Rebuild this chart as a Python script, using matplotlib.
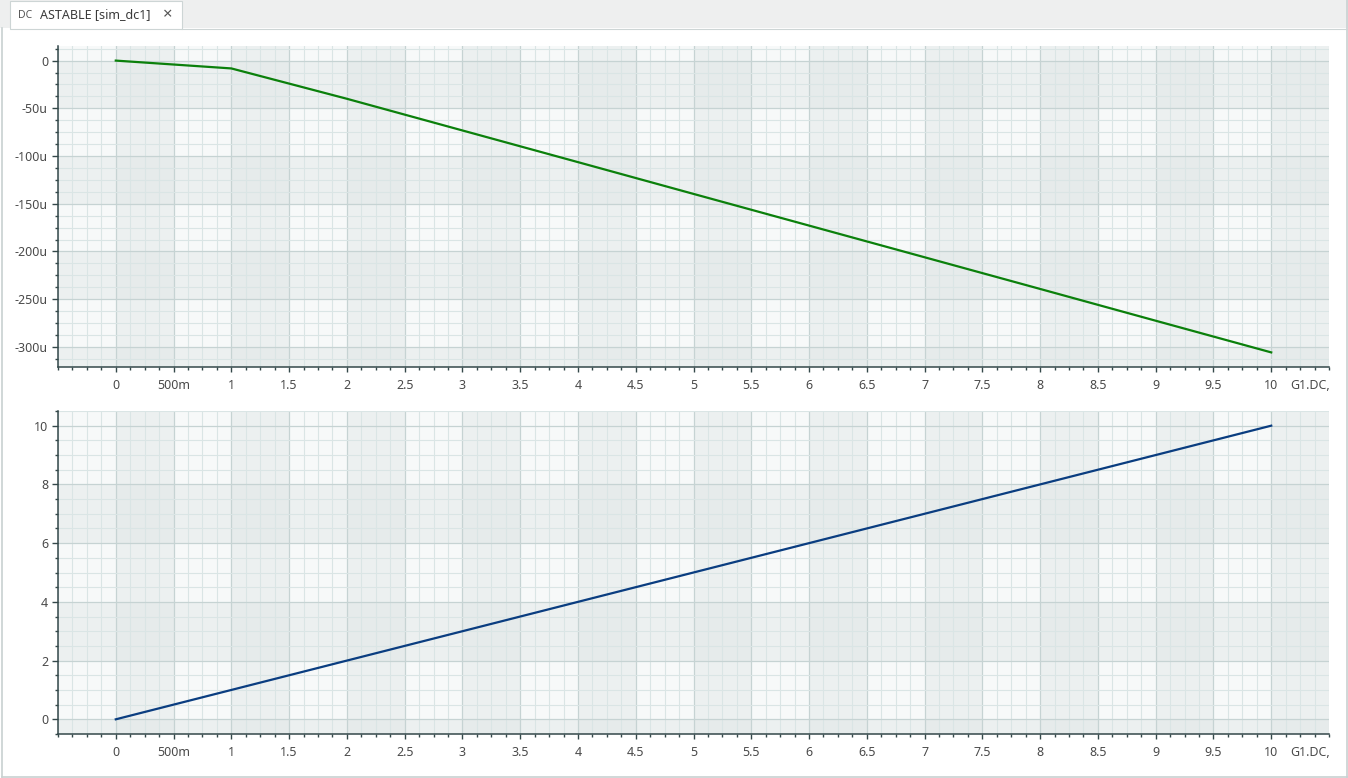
import numpy as np
import matplotlib
matplotlib.use('Agg')
import matplotlib.pyplot as plt
from matplotlib.patches import Rectangle
from matplotlib.lines import Line2D
from matplotlib.ticker import MultipleLocator, FixedLocator, FuncFormatter

plt.rcParams['font.family'] = ['Noto Sans', 'DejaVu Sans']

# sweep values (G1.DC)
sweep = [0, 1, 2, 3, 4, 5, 6, 7, 8, 9, 10]
# top trace, in micro units
current_u = [0, -8.2, -40.0, -73.2, -106.4, -139.7, -172.9, -206.1, -239.3, -272.6, -305.8]
# bottom trace
voltage = [0, 1, 2, 3, 4, 5, 6, 7, 8, 9, 10]

top_yticks = [0, -50, -100, -150, -200, -250, -300]
bot_yticks = [0, 2, 4, 6, 8, 10]
x_ticks = list(np.arange(0, 10.01, 0.5))

W, H = 1348, 778
fig = plt.figure(figsize=(W / 100, H / 100), dpi=100)
fig.patch.set_facecolor('white')


def fx(x):
    return x / W


def fy(y):
    return 1 - y / H


# window chrome: header strip, tab, border
fig.add_artist(Rectangle((0, fy(28)), 1, 28 / H, transform=fig.transFigure,
                         facecolor='#eeefef', edgecolor='none', zorder=0))
fig.add_artist(Rectangle((fx(10), fy(29)), 172 / W, 28 / H, transform=fig.transFigure,
                         facecolor='white', edgecolor='#cdd5d5', lw=0.8, zorder=1))
fig.add_artist(Line2D([fx(1.5), fx(1.5)], [fy(28), fy(777)], transform=fig.transFigure,
                      color='#c8d1d1', lw=1.2))
fig.add_artist(Line2D([fx(1347), fx(1347)], [fy(0), fy(777)], transform=fig.transFigure,
                      color='#c8d1d1', lw=1.2))
fig.add_artist(Line2D([fx(1.5), fx(1347)], [fy(776.8), fy(776.8)], transform=fig.transFigure,
                      color='#c8d1d1', lw=1.2))
fig.add_artist(Line2D([fx(182), fx(1347)], [fy(28.5), fy(28.5)], transform=fig.transFigure,
                      color='#cdd5d5', lw=0.8))
fig.text(fx(18), fy(15), 'DC', fontsize=7.5, color='#555555', va='center', ha='left')
fig.text(fx(40), fy(15), 'ASTABLE [sim_dc1]', fontsize=9, color='#3a3a3a', va='center', ha='left')
fig.text(fx(168), fy(15), '\u00d7', fontsize=12, color='#555555', va='center', ha='center')

ax_top = fig.add_axes([fx(58), fy(367), 1271 / W, 321 / H])
ax_bot = fig.add_axes([fx(58), fy(734), 1271 / W, 323 / H])

band_col = '#dfe6e6'
band_a = 0.45


def style(ax, yticks, yminor, dark_y):
    ax.set_facecolor('#f7f9f9')
    ax.set_xlim(-0.5, 10.5)
    # vertical bands
    for k in range(0, 11):
        ax.axvspan(k, k + 0.5, color=band_col, alpha=band_a, lw=0, zorder=0.1)
    for a, b in dark_y:
        ax.axhspan(a, b, color=band_col, alpha=band_a, lw=0, zorder=0.1)
    ax.set_axisbelow(True)
    ax.xaxis.set_major_locator(FixedLocator(x_ticks))
    ax.xaxis.set_minor_locator(MultipleLocator(0.125))
    ax.yaxis.set_major_locator(FixedLocator(yticks))
    ax.yaxis.set_minor_locator(MultipleLocator(yminor))
    ax.grid(which='minor', color='#dae5e5', lw=0.8)
    ax.grid(which='major', color='#c6d3d3', lw=0.9)
    for s in ['top', 'right']:
        ax.spines[s].set_visible(False)
    for s in ['left', 'bottom']:
        ax.spines[s].set_color('#34484a')
        ax.spines[s].set_linewidth(1.1)
    ax.tick_params(which='major', axis='x', length=3.5, width=1, color='#34484a',
                   labelsize=9, labelcolor='#4a4a4a', pad=5)
    ax.tick_params(which='major', axis='y', length=4.2, width=1, color='#34484a',
                   labelsize=9, labelcolor='#4a4a4a', pad=3)
    ax.tick_params(which='minor', length=2, width=1, color='#34484a')
    ax.xaxis.set_major_formatter(FuncFormatter(
        lambda v, p: '500m' if abs(v - 0.5) < 1e-9 else f'{v:g}'))
    ax.annotate('G1.DC,', xy=((1290 - 58) / 1271, 0), xycoords='axes fraction',
                xytext=(0, -8.6), textcoords='offset points', fontsize=9,
                color='#4a4a4a', ha='left', va='top')


ax_top.plot(sweep, current_u, color='#0b800b', lw=1.6, zorder=3)
ax_top.set_ylim(-321.1, 15.3)
style(ax_top, top_yticks, 12.5,
      [(-50, 0), (-150, -100), (-250, -200), (-330, -300)])
ax_top.yaxis.set_major_formatter(FuncFormatter(lambda v, p: '0' if v == 0 else f'{v:g}u'))

ax_bot.plot(sweep, voltage, color='#0a3d80', lw=1.6, zorder=3)
ax_bot.set_ylim(-0.5, 10.5)
style(ax_bot, bot_yticks, 0.5, [(-1, 0), (2, 4), (6, 8)])
ax_bot.yaxis.set_major_formatter(FuncFormatter(lambda v, p: f'{v:g}'))

fig.savefig('out.png', dpi=100)
